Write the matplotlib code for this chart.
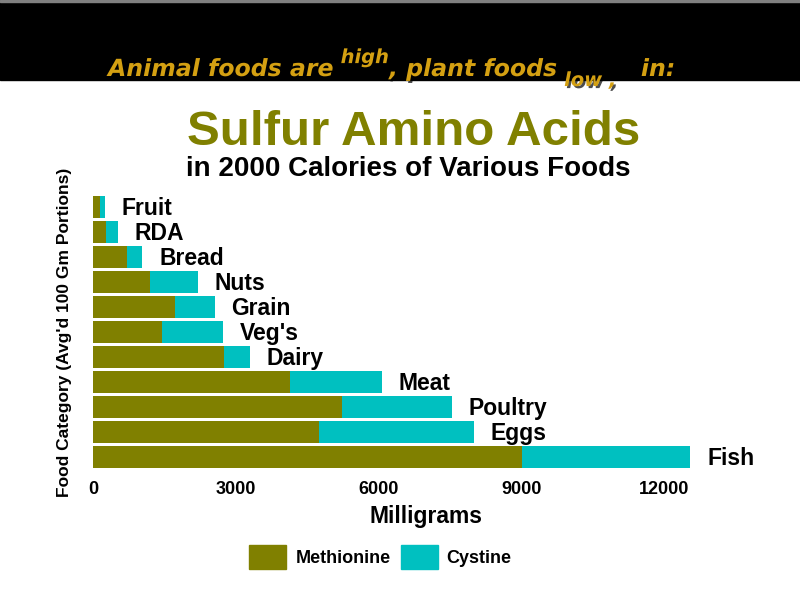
import numpy as np
import matplotlib
matplotlib.use("Agg")
from matplotlib import pyplot as plt
from matplotlib.patches import Patch, Rectangle
from matplotlib.text import Annotation
import matplotlib.patheffects as pe

plt.rcParams['font.family'] = ['Liberation Sans', 'DejaVu Sans']

# data, bottom to top
foods = ['Fish', 'Eggs', 'Poultry', 'Meat', 'Dairy', "Veg's",
         'Grain', 'Nuts', 'Bread', 'RDA', 'Fruit']
methionine = [9020, 4760, 5240, 4140, 2750, 1460, 1730, 1200, 720, 270, 150]
cystine = [3540, 3250, 2300, 1930, 550, 1280, 830, 1010, 320, 250, 100]
xticks = [0, 3000, 6000, 9000, 12000]

olive = '#808000'
cyan = '#00C0C0'
gold = '#D4A012'

fig = plt.figure(figsize=(8, 6), dpi=100)

# black banner across the top
fig.patches.append(Rectangle((0, 1 - 80 / 600), 1, 80 / 600,
                             transform=fig.transFigure, color='black', zorder=-2))
fig.patches.append(Rectangle((0, 1 - 2 / 600), 1, 2 / 600,
                             transform=fig.transFigure, color='#808080', zorder=-1))

ax = fig.add_axes([93 / 800, 1 - 469.5 / 600, 666 / 800, 275 / 600])

y = np.arange(len(foods))
ax.barh(y, methionine, height=0.88, color=olive)
ax.barh(y, cystine, left=methionine, height=0.88, color=cyan)

for i, name in enumerate(foods):
    ax.annotate(name, (methionine[i] + cystine[i], i), xytext=(12, -1),
                textcoords='offset points', va='center', ha='left',
                fontsize=16.5, fontweight='bold')

ax.set_xlim(0, 14000)
ax.set_ylim(-0.5, len(foods) - 0.5)
ax.set_xticks(xticks)
ax.set_xticklabels([str(v) for v in xticks], fontsize=13, fontweight='bold')
ax.set_yticks([])
ax.tick_params(axis='x', length=0, pad=8)
for s in ax.spines.values():
    s.set_visible(False)

ax.set_xlabel('Milligrams', fontsize=16.5, fontweight='bold', labelpad=5)
ax.set_ylabel("Food Category (Avg'd 100 Gm Portions)", fontsize=12.5,
              fontweight='bold', labelpad=15)

# titles
fig.text(414 / 800, 1 - 145 / 600, 'Sulfur Amino Acids', ha='center',
         va='baseline', fontsize=35.5, fontweight='bold', color=olive)
fig.text(408 / 800, 1 - 176 / 600, 'in 2000 Calories of Various Foods',
         ha='center', va='baseline', fontsize=20, fontweight='bold', color='black')

# banner text with superscript / subscript pieces
shadow = [pe.withSimplePatchShadow(offset=(1.5, -1.5), shadow_rgbFace='black', alpha=0.7)]
bfont = dict(family='DejaVu Sans', fontweight='bold', style='italic', color=gold)
t1 = fig.text(108 / 800, 1 - 76 / 600, 'Animal foods are', va='baseline',
              fontsize=17, path_effects=shadow, zorder=5, **bfont)
pieces = [(' high', 14, 10), (', plant foods', 17, 0), (' low ,', 14, -6.5), ('   in:', 17, 0)]
prev = t1
for txt, size, dy in pieces:
    a = Annotation(txt, xy=(1, 0), xycoords=(prev, t1), xytext=(0, dy),
                   textcoords='offset points', va='bottom', ha='left',
                   fontsize=size, path_effects=shadow, zorder=5, **bfont)
    fig.add_artist(a)
    prev = a

handles = [Patch(color=olive), Patch(color=cyan)]
fig.legend(handles, ['Methionine', 'Cystine'], ncol=2, loc='center',
           bbox_to_anchor=(380.5 / 800, 1 - 557 / 600), frameon=False,
           prop={'size': 13, 'weight': 'bold'}, handlelength=2.05,
           handleheight=1.66, handletextpad=0.5, columnspacing=0.55, borderpad=0)

fig.savefig('out.png', dpi=100)
